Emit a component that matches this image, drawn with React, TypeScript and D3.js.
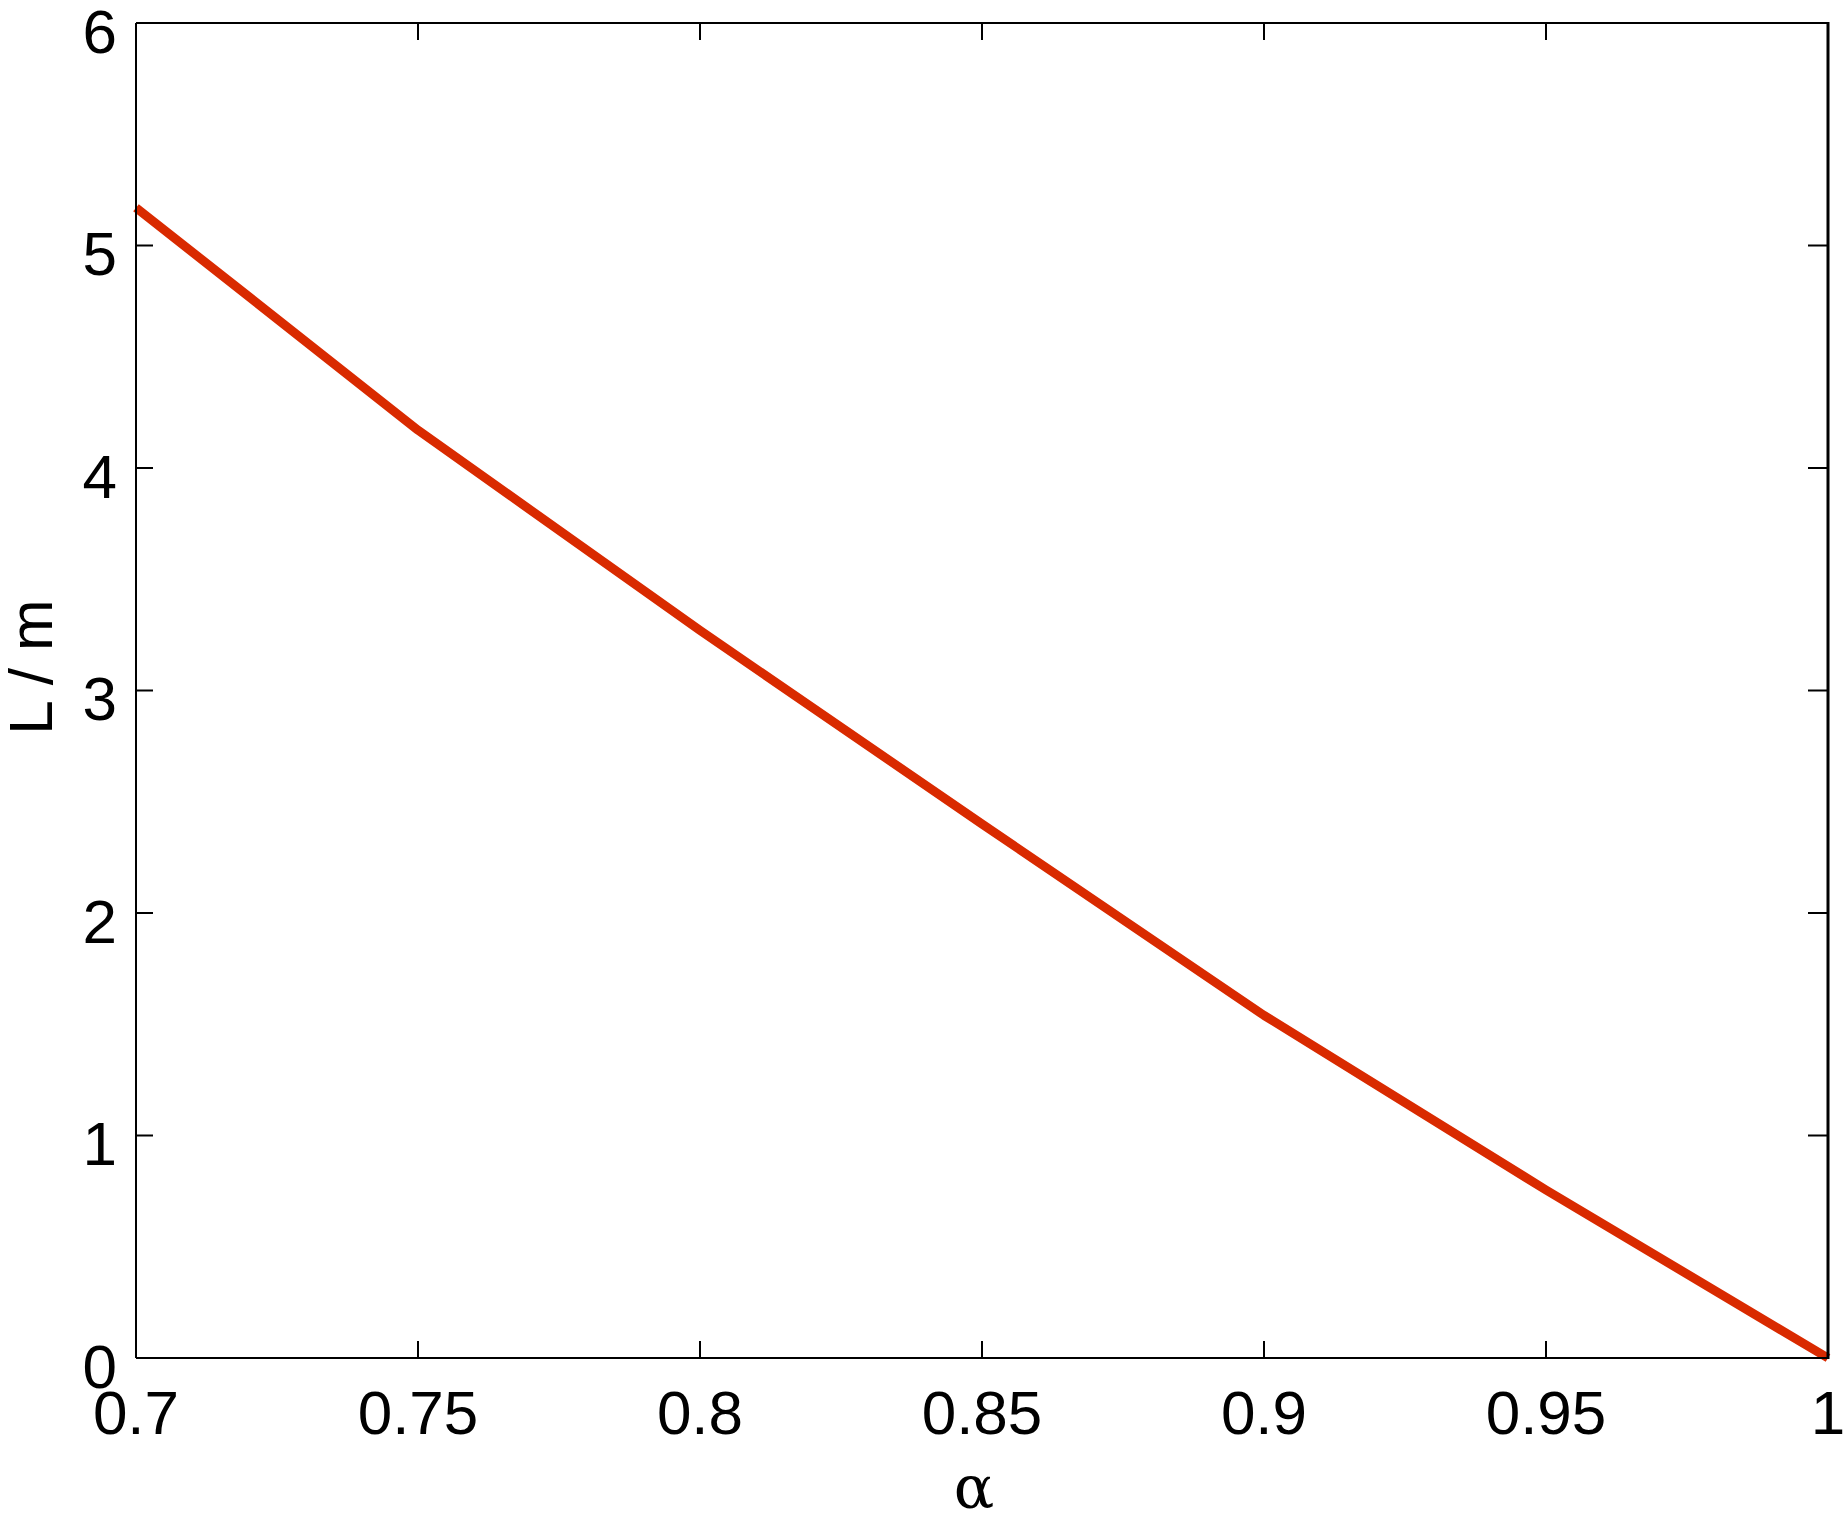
import React from "react";
import * as d3 from "d3";

const alphaValues = [0.7, 0.75, 0.8, 0.85, 0.9, 0.95, 1.0];
const lengthValues = [5.17, 4.17, 3.27, 2.4, 1.54, 0.755, 0.0];
const xTickValues = [0.7, 0.75, 0.8, 0.85, 0.9, 0.95, 1];
const xTickLabels = ["0.7", "0.75", "0.8", "0.85", "0.9", "0.95", "1"];
const yTickValues = [0, 1, 2, 3, 4, 5, 6];
const yTickLabels = ["0", "1", "2", "3", "4", "5", "6"];
const xLabel = "α";
const yLabel = "L / m";

const W = 1843;
const H = 1516;
const M = { left: 136, right: 1828, top: 23, bottom: 1358 };

export default function App() {
  const x = d3.scaleLinear().domain([0.7, 1]).range([M.left, M.right]);
  const y = d3.scaleLinear().domain([0, 6]).range([M.bottom, M.top]);
  const pts = alphaValues.map((a, i) => [a, lengthValues[i]] as [number, number]);
  const line = d3
    .line<[number, number]>()
    .x((d) => x(d[0]))
    .y((d) => y(d[1]));
  const tickLen = 17;
  const font = "'Liberation Sans', Arial, sans-serif";
  return (
    <svg
      width={W}
      height={H}
      style={{ position: "absolute", left: 0, top: 0, display: "block", background: "#fff" }}
    >
      <rect x={0} y={0} width={W} height={H} fill="#fff" />
      {yTickValues.map((v) => (
        <g key={"y" + v}>
          <line x1={M.left} x2={M.left + tickLen} y1={y(v)} y2={y(v)} stroke="#000" strokeWidth={2} />
          <line x1={M.right - tickLen - 3} x2={M.right} y1={y(v)} y2={y(v)} stroke="#000" strokeWidth={2} />
        </g>
      ))}
      {xTickValues.map((v) => (
        <g key={"x" + v}>
          <line x1={x(v)} x2={x(v)} y1={M.bottom} y2={M.bottom - tickLen} stroke="#000" strokeWidth={2} />
          <line x1={x(v)} x2={x(v)} y1={M.top} y2={M.top + tickLen} stroke="#000" strokeWidth={2} />
        </g>
      ))}
      <path d={line(pts) || ""} fill="none" stroke="#d92a00" strokeWidth={9} strokeLinejoin="round" />
      <line x1={M.left} x2={M.right} y1={M.top} y2={M.top} stroke="#000" strokeWidth={2} />
      <line x1={M.left} x2={M.right} y1={M.bottom} y2={M.bottom} stroke="#000" strokeWidth={2} />
      <line x1={M.left} x2={M.left} y1={M.top} y2={M.bottom} stroke="#000" strokeWidth={2} />
      <line x1={M.right} x2={M.right} y1={M.top - 1} y2={M.bottom + 1} stroke="#000" strokeWidth={3} />
      {yTickValues.map((v, i) => (
        <text
          key={"yl" + v}
          x={117}
          y={y(v) + 29.5}
          textAnchor="end"
          fontFamily={font}
          fontSize={62}
          fill="#000"
        >
          {yTickLabels[i]}
        </text>
      ))}
      {xTickValues.map((v, i) => (
        <text
          key={"xl" + v}
          x={x(v)}
          y={1434}
          textAnchor="middle"
          fontFamily={font}
          fontSize={62}
          fill="#000"
        >
          {xTickLabels[i]}
        </text>
      ))}
      <text
        transform={`translate(52, 667) rotate(-90)`}
        textAnchor="middle"
        fontFamily={font}
        fontSize={62}
        fill="#000"
      >
        {yLabel}
      </text>
      <text
        x={974}
        y={1508}
        textAnchor="middle"
        fontFamily="'DejaVu Serif', 'Liberation Serif', serif"
        fontSize={60}
        fill="#000"
      >
        {xLabel}
      </text>
    </svg>
  );
}
